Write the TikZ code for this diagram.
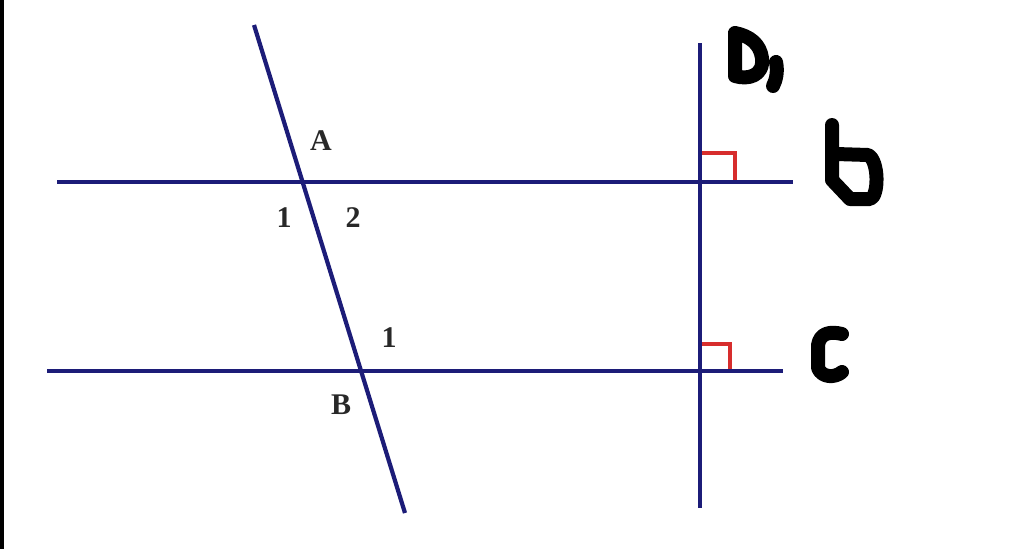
\documentclass[tikz,border=0pt]{standalone}
\usepackage{fontspec}
\setmainfont{Liberation Serif}
\begin{document}
\begin{tikzpicture}[x=1pt,y=-1pt,
  geoline/.style={draw={rgb,255:red,28;green,28;blue,120},line width=4.2pt},
  rightmark/.style={draw={rgb,255:red,215;green,45;blue,45},line width=3.4pt},
  hand/.style={draw=black,line width=14pt,line cap=round,line join=round},
  lbl/.style={font=\fontsize{30}{31}\selectfont\bfseries,text={rgb,255:red,40;green,40;blue,40},inner sep=0pt}]
\useasboundingbox (0,0) rectangle (1024,549);
\fill[white] (0,0) rectangle (1024,549);
\fill[black] (0,0) rectangle (3.5,549);
% coordinates
\coordinate (b1) at (57,182);
\coordinate (b2) at (793,182);
\coordinate (c1) at (47,371);
\coordinate (c2) at (783,371);
\coordinate (a1) at (700,43);
\coordinate (a2) at (700,508);
\coordinate (t1) at (254,25);
\coordinate (t2) at (405,513);
% lines
\draw[geoline] (b1) -- (b2);
\draw[geoline] (c1) -- (c2);
\draw[geoline] (a1) -- (a2);
\draw[geoline] (t1) -- (t2);
% right-angle marks
\draw[rightmark] (702,153) -- (735,153) -- (735,180);
\draw[rightmark] (702,344) -- (730,344) -- (730,369);
% labels
\node[lbl] (A) at (321,141) {A};
\node[lbl] (one1) at (284,218) {1};
\node[lbl] (two) at (353,218) {2};
\node[lbl] (one2) at (389,338) {1};
\node[lbl] (B) at (341,405) {B};
% handwritten a
\draw[hand] (735,33) -- (735,76) .. controls (748,80) and (764,76) .. (762,58) .. controls (760,44) and (750,36) .. (735,33);
\draw[hand] (776,62) .. controls (778,72) and (776,80) .. (773,86);
% handwritten b
\draw[hand] (832,125) -- (832,180) -- (850,199) -- (870,199) .. controls (879,197) and (879,160) .. (868,155) -- (836,154);
% handwritten c
\draw[hand] (842,334) .. controls (830,331) and (820,333) .. (818,345) -- (818,368) .. controls (822,378) and (835,378) .. (842,372);
\end{tikzpicture}
\end{document}
